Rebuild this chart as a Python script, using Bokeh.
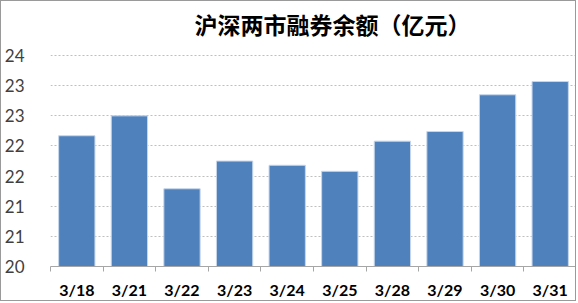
from bokeh.plotting import figure
from bokeh.models import Range1d, FixedTicker, Label
from bokeh.embed import file_html
from bokeh.resources import INLINE
import numpy as np

dates = ["3/18", "3/21", "3/22", "3/23", "3/24", "3/25", "3/28", "3/29", "3/30", "3/31"]
balance = [22.17, 22.50, 21.29, 21.75, 21.68, 21.58, 22.08, 22.24, 22.85, 23.07]
y_ticks = [20, 20.5, 21, 21.5, 22, 22.5, 23, 23.5]
y_tick_labels = ["20", "21", "21", "22", "22", "23", "23", "24"]
title_text = "沪深两市融券余额（亿元）"

n = len(dates)
xs = list(np.arange(n) + 0.5)

# frame spans the full height above the axis; top headroom holds the title
p = figure(width=576, height=301, output_backend="svg", toolbar_location=None,
           x_range=Range1d(0, n), y_range=Range1d(20, 24.398),
           min_border_left=42, min_border_right=1, min_border_top=0, min_border_bottom=36)
p.styles = {"border": "1px solid #9a9a9a"}

title = Label(x=2.74, y=24.02, text=title_text,
              text_font="Noto Sans CJK SC", text_font_size="23px", text_font_style="bold",
              text_color="#000000", text_align="left", text_baseline="middle")
p.add_layout(title)

p.vbar(x=xs, top=balance, bottom=20, width=0.69, fill_color="#4F81BD",
       line_color="#C6D6EA", line_width=1)

p.outline_line_color = None
p.xgrid.grid_line_color = None
p.ygrid.ticker = FixedTicker(ticks=y_ticks)
p.ygrid.grid_line_color = "#bfbfbf"
p.ygrid.grid_line_dash = "2 2"
p.ygrid.grid_line_width = 1

yax = p.yaxis[0]
yax.ticker = FixedTicker(ticks=y_ticks)
yax.major_label_overrides = {t: l for t, l in zip(y_ticks, y_tick_labels)}
yax.axis_line_color = None
yax.major_tick_line_color = None
yax.minor_tick_line_color = None
yax.major_label_text_font = "Lato"
yax.major_label_text_font_size = "17px"
yax.major_label_text_color = "#404040"
yax.major_label_standoff = 20

xax = p.xaxis[0]
xax.ticker = FixedTicker(ticks=xs, minor_ticks=list(range(n + 1)))
xax.major_label_overrides = {x: d for x, d in zip(xs, dates)}
xax.axis_line_color = "#a6a6a6"
xax.major_tick_line_color = None
xax.minor_tick_line_color = "#a6a6a6"
xax.minor_tick_in = 0
xax.minor_tick_out = 5
xax.major_label_text_font = "Lato"
xax.major_label_text_font_size = "16px"
xax.major_label_text_font_style = "bold"
xax.major_label_text_color = "#000000"
xax.major_label_standoff = 7

open("out.html", "w").write(file_html(p, INLINE))
